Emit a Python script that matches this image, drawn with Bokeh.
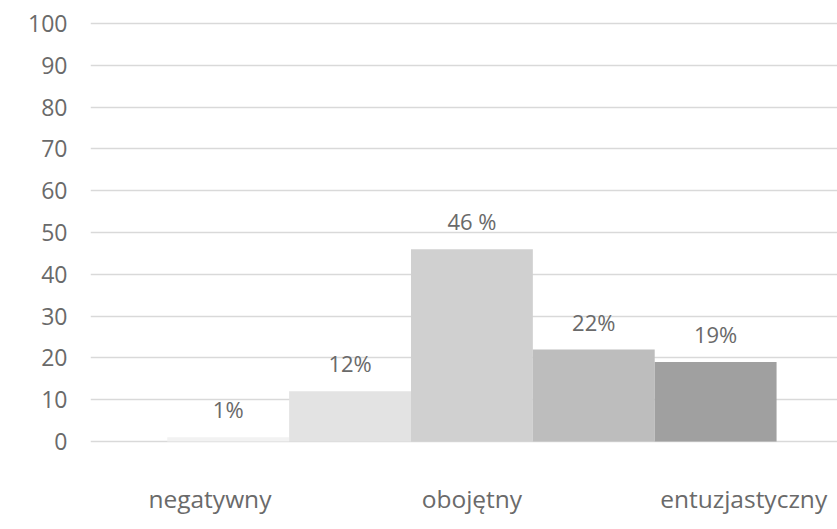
from bokeh.plotting import figure
from bokeh.models import ColumnDataSource, Range1d, FixedTicker, LabelSet
from bokeh.core.properties import value
from bokeh.embed import file_html
from bokeh.resources import INLINE

# attitude categories (one bar each) and their share in percent
positions = [1, 2, 3, 4, 5]
values = [1, 12, 46, 22, 19]
value_labels = ["1%", "12%", "46 %", "22%", "19%"]
colors = ["#f2f2f2", "#e3e3e3", "#d0d0d0", "#bdbdbd", "#a0a0a0"]

# only three scale points carry a caption on the horizontal axis
axis_names = ["negatywny", "obojętny", "entuzjastyczny"]
axis_name_x = [0.85, 3.0, 5.23]

y_ticks = list(range(0, 101, 10))

FONT = "Open Sans"
TEXT_COLOR = "#6a6a6a"

p = figure(width=837, height=529, output_backend="svg", toolbar_location=None,
           x_range=Range1d(-0.13, 6.0), y_range=Range1d(-0.72, 100.72),
           min_border_left=90, min_border_right=0, min_border_top=20,
           min_border_bottom=85)
p.outline_line_color = None
p.background_fill_color = "white"
p.border_fill_color = "white"

src = ColumnDataSource(dict(x=positions, top=values, label=value_labels, color=colors))
p.vbar(x="x", top="top", bottom=0, width=1.0, fill_color="color", line_color=None, source=src)

labels = LabelSet(x="x", y="top", text="label", source=src, text_align="center",
                  text_baseline="bottom", y_offset=13, text_font=value(FONT),
                  text_font_size=value("22px"), text_color=value(TEXT_COLOR))
p.add_layout(labels)

# vertical axis: numbers only, light grid
p.yaxis.ticker = FixedTicker(ticks=y_ticks)
p.yaxis.axis_line_color = None
p.yaxis.major_tick_line_color = None
p.yaxis.minor_tick_line_color = None
p.yaxis.major_tick_out = 0
p.yaxis.major_label_standoff = 23
p.yaxis.major_label_text_font = FONT
p.yaxis.major_label_text_font_size = "23px"
p.yaxis.major_label_text_color = TEXT_COLOR
p.ygrid.ticker = FixedTicker(ticks=y_ticks)
p.ygrid.grid_line_color = "#d9d9d9"
p.ygrid.grid_line_width = 1.5
p.xgrid.grid_line_color = None

# horizontal axis: three captions
p.xaxis.ticker = FixedTicker(ticks=axis_name_x)
p.xaxis.major_label_overrides = {x: n for x, n in zip(axis_name_x, axis_names)}
p.xaxis.axis_line_color = None
p.xaxis.major_tick_line_color = None
p.xaxis.minor_tick_line_color = None
p.xaxis.major_tick_out = 0
p.xaxis.major_label_standoff = 37
p.xaxis.major_label_text_font = FONT
p.xaxis.major_label_text_font_size = "24.5px"
p.xaxis.major_label_text_color = TEXT_COLOR

open("out.html", "w").write(file_html(p, INLINE))
